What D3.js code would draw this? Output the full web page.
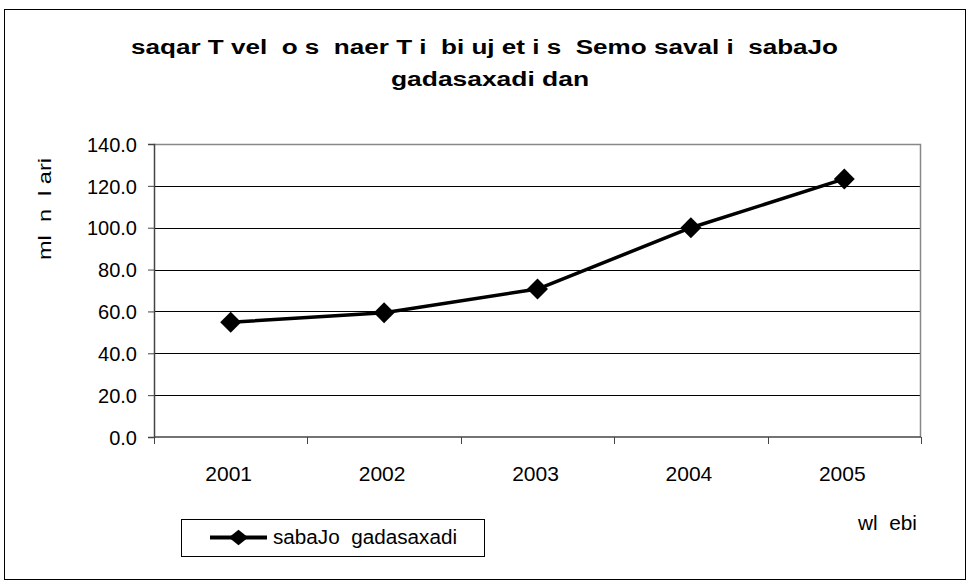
<!DOCTYPE html>
<html>
<head>
<meta charset="utf-8">
<script src="https://cdn.jsdelivr.net/npm/d3@7"></script>
<style>
  body { margin: 0; background: #fff; }
  text { fill: #000; white-space: pre; }
</style>
</head>
<body>
<script>
// chart data
var years = ["2001", "2002", "2003", "2004", "2005"];
var values = [54.8, 59.4, 70.7, 100.0, 123.3];
var yTicks = [0, 20, 40, 60, 80, 100, 120, 140];
var titleLines = ["saqar T vel  o s  naer T i  bi uj et i s  Semo saval i  sabaJo", "gadasaxadi dan"];
var yLabel = "ml  n  l ari";
var xLabel = "wl  ebi";
var seriesName = "sabaJo  gadasaxadi";

var width = 970,
    height = 584;

var margin = {left: 154, right: 49, top: 144, bottom: 147};
var plotW = width - margin.left - margin.right,
    plotH = height - margin.top - margin.bottom;

var sans = "'Liberation Sans', Arial, sans-serif";

var svg = d3.select("body").append("svg")
    .attr("width", width)
    .attr("height", height);

// outer frame
svg.append("rect")
    .attr("x", 4.5).attr("y", 9.5)
    .attr("width", 961).attr("height", 570)
    .attr("fill", "#fff")
    .attr("stroke", "#000")
    .attr("stroke-width", 1);

// title, squeezed to the width of the original
var titleW = [707, 198];
svg.selectAll(".title")
    .data(titleLines)
    .enter().append("text")
    .attr("class", "title")
    .attr("x", function(d, i) { return i ? 490 : 484.5; })
    .attr("y", function(d, i) { return 54 + i * 32; })
    .attr("text-anchor", "middle")
    .attr("textLength", function(d, i) { return titleW[i]; })
    .attr("lengthAdjust", "spacingAndGlyphs")
    .style("font-family", sans)
    .style("font-weight", "bold")
    .style("font-size", "20px")
    .text(function(d) { return d; });

var g = svg.append("g")
    .attr("transform", "translate(" + margin.left + "," + margin.top + ")");

var x = d3.scaleBand()
    .domain(years)
    .range([0, plotW]);

var y = d3.scaleLinear()
    .domain([0, 140])
    .range([plotH, 0]);

// gridlines
g.selectAll(".grid")
    .data(yTicks.filter(function(d) { return d > 0 && d < 140; }))
    .enter().append("line")
    .attr("class", "grid")
    .attr("x1", 0).attr("x2", plotW)
    .attr("y1", function(d) { return Math.round(y(d)) + 0.5; })
    .attr("y2", function(d) { return Math.round(y(d)) + 0.5; })
    .attr("stroke", "#000")
    .attr("stroke-width", 1);

// plot area border (top, right)
g.append("path")
    .attr("d", "M0,0.5H" + (plotW - 0.5) + "V" + plotH)
    .attr("fill", "none")
    .attr("stroke", "#888")
    .attr("stroke-width", 1.5);

// y axis
var yAxis = g.append("g")
    .call(d3.axisLeft(y).tickValues(yTicks).tickSize(6).tickPadding(11)
        .tickFormat(d3.format(".1f")));
yAxis.select(".domain").attr("stroke", "#444").attr("stroke-width", 1.5);
yAxis.selectAll(".tick line").attr("stroke", "#444");
yAxis.selectAll("text")
    .style("font-family", sans)
    .style("font-size", "20px")
    .attr("dy", "0.36em");

// x axis, ticks between categories
var xAxis = g.append("g")
    .attr("transform", "translate(0," + plotH + ")");
xAxis.append("line")
    .attr("x1", 0).attr("x2", plotW)
    .attr("y1", 0).attr("y2", 0)
    .attr("stroke", "#444").attr("stroke-width", 1.5);
var edges = years.map(function(d) { return x(d); }).concat([plotW]);
xAxis.selectAll(".xtick")
    .data(edges)
    .enter().append("line")
    .attr("x1", function(d) { return Math.round(d) + 0.5; })
    .attr("x2", function(d) { return Math.round(d) + 0.5; })
    .attr("y1", 0).attr("y2", 7)
    .attr("stroke", "#444");
xAxis.selectAll(".xlab")
    .data(years)
    .enter().append("text")
    .attr("x", function(d) { return x(d) + x.bandwidth() / 2 - 2; })
    .attr("y", 44)
    .attr("text-anchor", "middle")
    .style("font-family", sans)
    .style("font-size", "21px")
    .text(function(d) { return d; });

// series line
var pts = years.map(function(d, i) { return [x(d) + x.bandwidth() / 2, y(values[i])]; });
g.append("path")
    .datum(pts)
    .attr("d", d3.line())
    .attr("fill", "none")
    .attr("stroke", "#000")
    .attr("stroke-width", 3.5)
    .attr("stroke-linejoin", "round");

var diamond = d3.symbol().type(d3.symbolDiamond2).size(280);
g.selectAll(".marker")
    .data(pts)
    .enter().append("path")
    .attr("class", "marker")
    .attr("transform", function(d) { return "translate(" + d[0] + "," + d[1] + ")"; })
    .attr("d", diamond)
    .attr("fill", "#000");

// axis titles
svg.append("text")
    .attr("transform", "translate(51,209) rotate(-90)")
    .attr("text-anchor", "middle")
    .attr("textLength", 102)
    .attr("lengthAdjust", "spacingAndGlyphs")
    .style("font-family", sans)
    .style("font-size", "19px")
    .text(yLabel);

svg.append("text")
    .attr("x", 917)
    .attr("y", 530)
    .attr("text-anchor", "end")
    .attr("textLength", 59)
    .attr("lengthAdjust", "spacingAndGlyphs")
    .style("font-family", sans)
    .style("font-size", "20px")
    .text(xLabel);

// legend
var leg = svg.append("g").attr("transform", "translate(181,519)");
leg.append("rect")
    .attr("x", 0.5).attr("y", 0.5)
    .attr("width", 303).attr("height", 37)
    .attr("fill", "#fff")
    .attr("stroke", "#000");
leg.append("line")
    .attr("x1", 29).attr("x2", 86)
    .attr("y1", 18.5).attr("y2", 18.5)
    .attr("stroke", "#000").attr("stroke-width", 4);
leg.append("path")
    .attr("transform", "translate(57.5,18.5) scale(1,0.8)")
    .attr("d", d3.symbol().type(d3.symbolDiamond2).size(240))
    .attr("fill", "#000");
leg.append("text")
    .attr("x", 92)
    .attr("y", 25)
    .attr("textLength", 184)
    .attr("lengthAdjust", "spacingAndGlyphs")
    .style("font-family", sans)
    .style("font-size", "20px")
    .text(seriesName);
</script>
</body>
</html>
